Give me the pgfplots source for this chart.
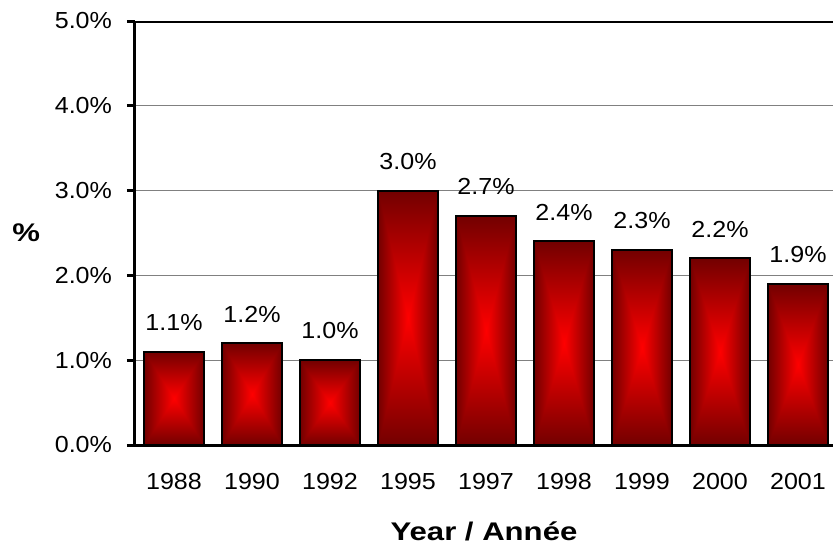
\documentclass[border=0pt]{standalone}
\usepackage{fontspec}
\setmainfont{Liberation Sans}[FakeStretch=1.08]
\newfontfamily\labfont{Liberation Sans}[FakeStretch=1.22]
\usepackage{pgfplots}
\pgfplotsset{compat=1.18}
\pgfdeclarefunctionalshading{rectcenter}{\pgfpoint{-50bp}{-50bp}}{\pgfpoint{50bp}{50bp}}{}{abs exch abs 2 copy lt {exch} if pop 25 div dup 1 gt {pop 1} if 0.55 mul 1 exch sub 0 0}
\begin{document}
\begin{tikzpicture}
\begin{axis}[
  at={(0,0)}, anchor=south west,
  scale only axis, width=349pt, height=212pt,
  xmin=-0.5, xmax=8.449, ymin=0, ymax=5,
  axis x line*=bottom, axis y line*=left,
  axis line style={line width=1.5pt,-},
  /pgf/number format/assume math mode=true,
  ytick={0,1,2,3,4,5},
  yticklabel={\pgfmathprintnumber[fixed,fixed zerofill,precision=1]{\tick}\%},
  ytick style={line width=1.5pt, black},
  tick align=outside,
  major tick length=4pt,
  xtick={0,...,8},
  xticklabels={1988,1990,1992,1995,1997,1998,1999,2000,2001},
  xtick style={draw=none},
  extra x ticks={-0.5,0.5,1.5,2.5,3.5,4.5,5.5,6.5,7.5},
  extra x tick labels={},
  extra x tick style={tick style={gray, line width=0.5pt}, major tick length=5pt},
  ymajorgrids,
  grid style={gray, line width=0.5pt},
  tick label style={font=\fontsize{11.6}{13}\selectfont},
  yticklabel style={xshift=-4pt},
  xticklabel style={yshift=-6.5pt},
  xlabel={\labfont\bfseries Year / Ann\'ee},
  ylabel={\labfont\bfseries \%},
  xlabel style={at={(axis description cs:0.5,-0.203)}, anchor=center, font=\fontsize{12.75}{15}\selectfont},
  ylabel style={at={(axis description cs:-0.156,0.5)}, anchor=center, rotate=-90, font=\fontsize{12.75}{15}\selectfont},
  ybar, bar width=30pt,
  nodes near coords={\pgfmathprintnumber[fixed,fixed zerofill,precision=1]{\pgfplotspointmeta}\%},
  nodes near coords style={font=\fontsize{11.6}{13}\selectfont, anchor=south, inner sep=0pt, yshift=10pt, black},
  mybar/.style={draw=black, line width=1pt, shading=rectcenter, bar shift=0pt},
]
\addplot[mybar] coordinates {(0,1.1)};
\addplot[mybar] coordinates {(1,1.2)};
\addplot[mybar] coordinates {(2,1.0)};
\addplot[mybar] coordinates {(3,3.0)};
\addplot[mybar] coordinates {(4,2.7)};
\addplot[mybar] coordinates {(5,2.4)};
\addplot[mybar] coordinates {(6,2.3)};
\addplot[mybar] coordinates {(7,2.2)};
\addplot[mybar] coordinates {(8,1.9)};
\draw[line width=1.5pt] (rel axis cs:0,1) -- (rel axis cs:1,1);
\end{axis}
\pgfresetboundingbox
\path[use as bounding box] (-67.5pt,-54pt) rectangle (349pt,222.5pt);
\end{tikzpicture}
\end{document}
